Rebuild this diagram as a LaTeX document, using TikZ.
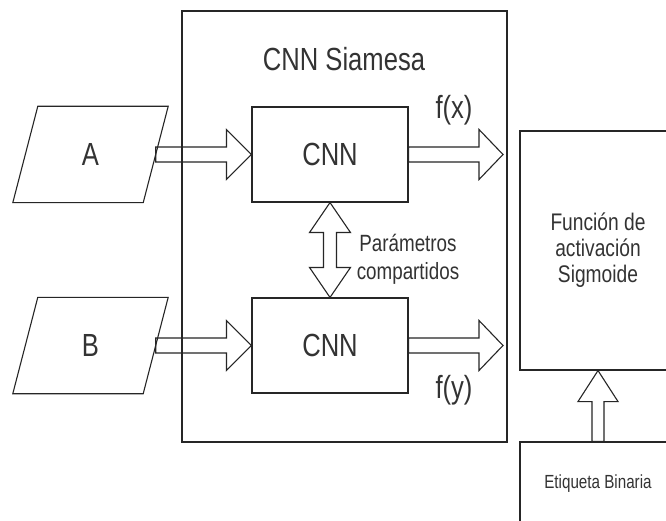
\documentclass[tikz,border=0pt]{standalone}
\usepackage{fontspec}
\setmainfont[FakeStretch=0.8]{Liberation Sans}
\usetikzlibrary{calc}

\begin{document}
\begin{tikzpicture}[x=1pt,y=1pt,
  line/.style={draw=black!85, line width=1.1pt, line join=miter},
  box/.style={line, rectangle, inner sep=0pt, text=black!80},
  txt/.style={inner sep=0pt, text=black!80},
  big/.style={font=\fontsize{32}{38}\selectfont},
  mid/.style={font=\fontsize{24}{26}\selectfont},
  small/.style={font=\fontsize{19}{23}\selectfont},
  % block arrow: #1 shaft half-width, #2 head half-width, #3 head length
  fat/.style n args={3}{to path={
    ($(\tikztostart)!#1!90:(\tikztotarget)$)
    -- ($(\tikztotarget)!#3!(\tikztostart)!#1!90:(\tikztotarget)$)
    -- ($(\tikztotarget)!#3!(\tikztostart)!#2!90:(\tikztotarget)$)
    -- (\tikztotarget)
    -- ($(\tikztotarget)!#3!(\tikztostart)!#2!-90:(\tikztotarget)$)
    -- ($(\tikztotarget)!#3!(\tikztostart)!#1!-90:(\tikztotarget)$)
    -- ($(\tikztostart)!#1!-90:(\tikztotarget)$)
    -- cycle}},
  % double-headed block arrow
  fatboth/.style n args={3}{to path={
    ($(\tikztostart)!#3!(\tikztotarget)!#1!90:(\tikztotarget)$)
    -- ($(\tikztotarget)!#3!(\tikztostart)!#1!90:(\tikztotarget)$)
    -- ($(\tikztotarget)!#3!(\tikztostart)!#2!90:(\tikztotarget)$)
    -- (\tikztotarget)
    -- ($(\tikztotarget)!#3!(\tikztostart)!#2!-90:(\tikztotarget)$)
    -- ($(\tikztotarget)!#3!(\tikztostart)!#1!-90:(\tikztotarget)$)
    -- ($(\tikztostart)!#3!(\tikztotarget)!#1!-90:(\tikztotarget)$)
    -- ($(\tikztostart)!#3!(\tikztotarget)!#2!-90:(\tikztotarget)$)
    -- (\tikztostart)
    -- ($(\tikztostart)!#3!(\tikztotarget)!#2!90:(\tikztotarget)$)
    -- cycle}}
]
\fill[white] (0,0) rectangle (666,520);
\useasboundingbox (0,0) rectangle (666,520);
\clip (0,0) rectangle (666,520);

% Siamese container
\node[box, minimum width=325, minimum height=431] (siam) at (344.5,293.5) {};
\node[txt, big, anchor=base] (siamT) at (344,449) {CNN Siamesa};

% the two CNN branches
\node[box, big, minimum width=156, minimum height=95] (cnn1) at (330,365.5) {CNN};
\node[box, big, minimum width=156, minimum height=95] (cnn2) at (330,174.5) {CNN};

% inputs (parallelograms)
\node[txt, big, minimum width=130, minimum height=96] (inA) at (90.5,365.5) {A};
\node[txt, big, minimum width=130, minimum height=96] (inB) at (90.5,174.5) {B};
\foreach \n in {inA,inB}
  \draw[line] ($(\n.north west)+(12.5,0)$) -- ($(\n.north east)+(12.5,0)$)
    -- ($(\n.south east)-(12.5,0)$) -- ($(\n.south west)-(12.5,0)$) -- cycle;

% outputs
\coordinate (fxend) at (503,365.5);
\coordinate (fyend) at (503,174.5);
\node[txt, big, anchor=base] (fx) at (454,401) {f(x)};
\node[txt, big, anchor=base] (fy) at (454,122) {f(y)};

% shared parameters
\node[txt, align=center, font=\fontsize{23.5}{27.7}\selectfont] (param) at (408,260.7) {Parámetros\\compartidos};

% sigmoid and label boxes (both run past the right and bottom page edges)
\node[box, mid, align=center, minimum width=156, minimum height=239] (func) at (598,269.5) {Función de\\activación\\Sigmoide};
\node[box, small, minimum width=156, minimum height=83] (etq) at (598,36.5) {Etiqueta Binaria};

% block arrows
\draw[line, fat={7.5pt}{25pt}{25pt}] (inA.east) to (cnn1.west);
\draw[line, fat={7.5pt}{25pt}{25pt}] (inB.east) to (cnn2.west);
\draw[line, fat={7.5pt}{25pt}{24pt}] (cnn1.east) to (fxend);
\draw[line, fat={7.5pt}{25pt}{24pt}] (cnn2.east) to (fyend);
\draw[line, fatboth={6.5pt}{20.5pt}{30pt}] (cnn1.south) to (cnn2.north);
\draw[line, fat={6pt}{20pt}{31pt}] (etq.north) to (func.south);
\end{tikzpicture}
\end{document}
